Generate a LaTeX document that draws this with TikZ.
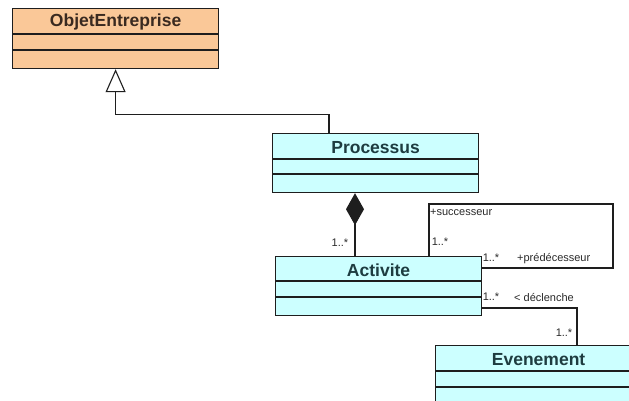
\documentclass[tikz,border=0pt]{standalone}
\usepackage{fontspec}
\setmainfont{Liberation Sans}
\usetikzlibrary{calc,arrows.meta}
\definecolor{orangefill}{HTML}{FAC898}
\definecolor{cyanfill}{HTML}{CCFFFF}
\definecolor{lineclr}{HTML}{1E1E1E}
\definecolor{nameorange}{HTML}{3A2A20}
\definecolor{namecyan}{HTML}{1E3C40}
\definecolor{smalltxt}{HTML}{2A2A2A}
\tikzset{
  clsbox/.style={draw=lineclr, line width=1.2pt, rectangle, minimum width=206pt, minimum height=59pt, inner sep=0pt, anchor=north west},
  clsname/.style={font=\fontsize{17.5}{18}\selectfont\bfseries, inner sep=0pt},
  conn/.style={draw=lineclr, line width=1.1pt},
  small/.style={font=\fontsize{11}{12}\selectfont, text=smalltxt, inner sep=0pt},
  sep/.style={draw=lineclr, line width=1.1pt}
}
\begin{document}
\begin{tikzpicture}[x=1pt,y=-1pt]
\useasboundingbox (0,0) rectangle (629,400);
\clip (0,0) rectangle (629,400);
\fill[white] (0,0) rectangle (629,400);

% ObjetEntreprise
\node[clsbox, fill=orangefill, minimum height=60pt] (obj) at (12,8) {};
\node[clsname, text=nameorange] (objn) at ($(obj.north)+(0,14)$) {ObjetEntreprise};
\draw[sep] ($(obj.north west)+(0,26)$) -- ($(obj.north east)+(0,26)$);
\draw[sep] ($(obj.north west)+(0,42)$) -- ($(obj.north east)+(0,42)$);

% Processus
\node[clsbox, fill=cyanfill] (proc) at (272,133) {};
\node[clsname, text=namecyan] (procn) at ($(proc.north)+(0,15)$) {Processus};
\draw[sep] ($(proc.north west)+(0,26)$) -- ($(proc.north east)+(0,26)$);
\draw[sep] ($(proc.north west)+(0,41)$) -- ($(proc.north east)+(0,41)$);

% Activite
\node[clsbox, fill=cyanfill] (act) at (275,256) {};
\node[clsname, text=namecyan] (actn) at ($(act.north)+(0,14)$) {Activite};
\draw[sep] ($(act.north west)+(0,25)$) -- ($(act.north east)+(0,25)$);
\draw[sep] ($(act.north west)+(0,41)$) -- ($(act.north east)+(0,41)$);

% Evenement
\node[clsbox, fill=cyanfill] (evt) at (435,345) {};
\node[clsname, text=namecyan] (evtn) at ($(evt.north)+(0,15)$) {Evenement};
\draw[sep] ($(evt.north west)+(0,26)$) -- ($(evt.north east)+(0,26)$);
\draw[sep] ($(evt.north west)+(0,42)$) -- ($(evt.north east)+(0,42)$);

% Generalization Processus -> ObjetEntreprise
\coordinate (gstart) at ($(proc.north west)+(57,0)$);
\coordinate (gbend) at ($(obj.south)+(0,45)$);
\draw[conn, -{Triangle[open, length=23pt, width=20pt, line width=1.1pt, fill=white]}]
  (gstart) |- (gbend) -- (obj.south);

% Composition Processus <>-- Activite
\coordinate (cstart) at ($(act.north west)+(80,0)$);
\draw[conn, -{Diamond[length=32pt, width=18pt, fill=lineclr]}]
  (cstart) -- (cstart |- proc.south);
\node[small] (cmult) at (340,243) {1..*};

% Self association on Activite
\coordinate (s1) at ($(act.north west)+(154,0)$);
\coordinate (s2) at ($(act.north east)+(0,12)$);
\coordinate (stop) at (613,204);
\draw[conn] (s1) |- (stop) |- (s2);
\node[small, anchor=west] (succ) at (430,212) {+successeur};
\node[small] (smult1) at (440,242) {1..*};
\node[small] (smult2) at (491,258) {1..*};
\node[small, anchor=west] (pred) at (517,259) {+prédécesseur};

% Association Activite -- Evenement
\coordinate (d1) at ($(act.north east)+(0,52)$);
\coordinate (dcorner) at ($(evt.north west)+(142,0)$);
\draw[conn] (d1) -| (dcorner);
\node[small] (dmult1) at (491,297) {1..*};
\node[small, anchor=west] (decl) at (514,297) {< déclenche};
\node[small] (dmult2) at (564,333) {1..*};
\end{tikzpicture}
\end{document}
